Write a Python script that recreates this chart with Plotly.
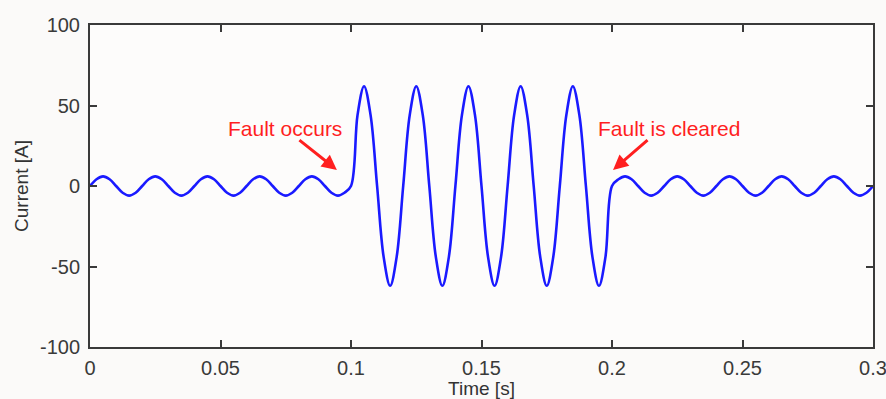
import numpy as np
import plotly.graph_objects as go

# Sample times (s): every 2.5 ms from 0 to 0.3 s
time_s = np.round(np.arange(0, 121) * 0.0025, 4)

# Current (A), per segment
pre_fault_current = [
    0, 4.2, 6, 4.2, 0, -4.2, -6, -4.2,
    0, 4.2, 6, 4.2, 0, -4.2, -6, -4.2,
    0, 4.2, 6, 4.2, 0, -4.2, -6, -4.2,
    0, 4.2, 6, 4.2, 0, -4.2, -6, -4.2,
    0, 4.2, 6, 4.2, 0, -4.2, -6, -4.2,
]
fault_current = [
    0, 44, 62, 44, 0, -44, -62, -44,
    0, 44, 62, 44, 0, -44, -62, -44,
    0, 44, 62, 44, 0, -44, -62, -44,
    0, 44, 62, 44, 0, -44, -62, -44,
    0, 44, 62, 44, 0, -44, -62, -44,
]
post_fault_current = [
    0, 4.2, 6, 4.2, 0, -4.2, -6, -4.2,
    0, 4.2, 6, 4.2, 0, -4.2, -6, -4.2,
    0, 4.2, 6, 4.2, 0, -4.2, -6, -4.2,
    0, 4.2, 6, 4.2, 0, -4.2, -6, -4.2,
    0, 4.2, 6, 4.2, 0, -4.2, -6, -4.2,
    0,
]
current_a = pre_fault_current + fault_current + post_fault_current

x_ticks = [0, 0.05, 0.1, 0.15, 0.2, 0.25, 0.3]
x_tick_labels = ["0", "0.05", "0.1", "0.15", "0.2", "0.25", "0.3"]
y_ticks = [-100, -50, 0, 50, 100]
y_tick_labels = ["-100", "-50", "0", "50", "100"]

FONT = "Liberation Sans, Arial, sans-serif"
AX_COLOR = "#3a3a3a"
RED = "#ff1f1f"

fig = go.Figure()
fig.add_trace(go.Scatter(
    x=time_s, y=current_a, mode="lines",
    line=dict(color="#1a1aff", width=2.6, shape="spline", smoothing=1.0),
    showlegend=False, hoverinfo="x+y",
))

axis_common = dict(
    showline=True, linecolor=AX_COLOR, linewidth=2, mirror="ticks",
    ticks="inside", ticklen=7, tickwidth=1.5, tickcolor=AX_COLOR,
    showgrid=False, zeroline=False, automargin=False,
    ticklabeloverflow="allow",
    tickfont=dict(family=FONT, size=20, color="#3a3a3a"),
)

fig.update_layout(
    width=886, height=399,
    margin=dict(l=90, r=13, t=25, b=52),
    paper_bgcolor="#fbfaf9", plot_bgcolor="#fdfcfb",
    font=dict(family=FONT, color="#3a3a3a"),
    xaxis=dict(range=[0, 0.3], tickvals=x_ticks, ticktext=x_tick_labels,
               ticklabelstandoff=2,
               title=dict(text="Time [s]", font=dict(family=FONT, size=19, color="#333333"),
                          standoff=0),
               **axis_common),
    yaxis=dict(range=[-100, 100], tickvals=y_ticks, ticktext=y_tick_labels,
               ticklabelstandoff=4,
               title=dict(text="Current [A]", font=dict(family=FONT, size=19, color="#333333"),
                          standoff=6),
               **axis_common),
)

fig.add_annotation(x=0.0749, y=36, text="Fault occurs", showarrow=False,
                   font=dict(family=FONT, size=21, color=RED))
fig.add_annotation(x=0.2218, y=36, text="Fault is cleared", showarrow=False,
                   font=dict(family=FONT, size=21, color=RED))
fig.add_annotation(x=0.0946, y=10, text="", showarrow=True, ax=-39, ay=-31,
                   arrowhead=2, arrowsize=1, arrowwidth=3, arrowcolor=RED)
fig.add_annotation(x=0.2004, y=10, text="", showarrow=True, ax=36, ay=-31,
                   arrowhead=2, arrowsize=1, arrowwidth=3, arrowcolor=RED)

fig.write_html(
    "out.html",
    config={"displayModeBar": False},
    post_script="document.body.style.margin='0';document.body.style.overflow='hidden';",
)
